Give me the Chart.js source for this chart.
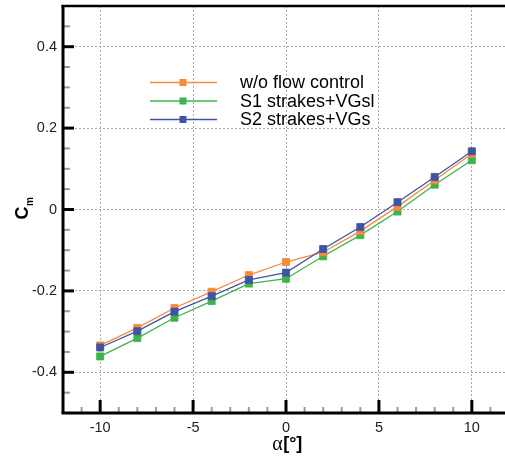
<!DOCTYPE html>
<html>
<head>
<meta charset="utf-8">
<script src="https://cdn.jsdelivr.net/npm/chart.js@4.4.0/dist/chart.umd.min.js"></script>
<style>
html,body{margin:0;padding:0;overflow:hidden;background:#fff;width:505px;height:456px;}
canvas{display:block;}
</style>
</head>
<body>
<canvas id="c" width="515" height="456"></canvas>
<script>
const ALPHA = [-10, -8, -6, -4, -2, 0, 2, 4, 6, 8, 10];
const CM_NONE = [-0.334, -0.291, -0.242, -0.202, -0.161, -0.129, -0.105, -0.053, 0.007, 0.072, 0.137];
const CM_S1 = [-0.361, -0.316, -0.266, -0.225, -0.182, -0.170, -0.115, -0.063, -0.005, 0.061, 0.121];
const CM_S2 = [-0.339, -0.299, -0.251, -0.213, -0.173, -0.155, -0.097, -0.043, 0.018, 0.080, 0.143];
const SERIES_NAMES = ['w/o flow control', 'S1 strakes+VGsl', 'S2 strakes+VGs'];
const COLORS = ['#F58A3C', '#3DB44B', '#3E55A5'];
const X_TICKS = [-10, -5, 0, 5, 10];
const X_TICK_LABELS = ['-10', '-5', '0', '5', '10'];
const Y_TICKS = [-0.4, -0.2, 0, 0.2, 0.4];
const Y_TICK_LABELS = ['-0.4', '-0.2', '0', '0.2', '0.4'];
const X_RANGE = [-12, 12];
const Y_RANGE = [-0.5, 0.5];

const FONT = '"Liberation Sans", Arial, Helvetica, sans-serif';

function pts(ys) { return ALPHA.map((x, i) => ({x: x, y: ys[i]})); }

const frame = {
  id: 'frame',
  afterDatasetsDraw(chart) {
    const ctx = chart.ctx, a = chart.chartArea;
    const xs = chart.scales.x, ys = chart.scales.y;
    ctx.save();
    // minor ticks
    ctx.strokeStyle = '#9a9a9a';
    ctx.lineWidth = 2;
    for (let v = -11; v <= 11; v += 1) {
      if (v % 5 === 0) continue;
      const px = xs.getPixelForValue(v);
      ctx.beginPath(); ctx.moveTo(px, a.bottom); ctx.lineTo(px, a.bottom - 6); ctx.stroke();
    }
    for (let k = -9; k <= 9; k += 1) {
      if (k % 4 === 0) continue;
      const py = ys.getPixelForValue(k * 0.05);
      ctx.beginPath(); ctx.moveTo(a.left, py); ctx.lineTo(a.left + 7, py); ctx.stroke();
    }
    // major ticks
    ctx.strokeStyle = '#000';
    ctx.lineWidth = 3;
    X_TICKS.forEach(v => {
      const px = xs.getPixelForValue(v);
      ctx.beginPath(); ctx.moveTo(px, a.bottom); ctx.lineTo(px, a.bottom - 13); ctx.stroke();
    });
    Y_TICKS.forEach(v => {
      const py = ys.getPixelForValue(v);
      ctx.beginPath(); ctx.moveTo(a.left, py); ctx.lineTo(a.left + 11, py); ctx.stroke();
    });
    // frame
    ctx.lineWidth = 3;
    ctx.beginPath(); ctx.moveTo(a.left, a.top - 1); ctx.lineTo(a.left, a.bottom); ctx.stroke();
    ctx.beginPath(); ctx.moveTo(a.left - 1.5, a.bottom); ctx.lineTo(a.right, a.bottom); ctx.stroke();
    ctx.beginPath(); ctx.moveTo(a.right, a.top); ctx.lineTo(a.right, a.bottom); ctx.stroke();
    ctx.lineWidth = 2.5;
    ctx.beginPath(); ctx.moveTo(a.left - 1.5, a.top); ctx.lineTo(a.right, a.top); ctx.stroke();

    // axis titles
    ctx.fillStyle = '#000';
    ctx.textBaseline = 'alphabetic';
    const t1 = 'α', t2 = '[°]';
    const f1 = '20px "Liberation Serif", "DejaVu Serif", serif';
    const f2 = 'bold 18px ' + FONT;
    ctx.font = f1; const w1 = ctx.measureText(t1).width;
    ctx.font = f2; const w2 = ctx.measureText(t2).width;
    const cx = xs.getPixelForValue(0) + 1;
    let sx = cx - (w1 + w2) / 2;
    ctx.textAlign = 'left';
    ctx.font = f1; ctx.fillText(t1, sx, 450);
    ctx.font = f2; ctx.fillText(t2, sx + w1 + 0.5, 449);
    // y title: C_m
    ctx.translate(28, ys.getPixelForValue(0) - 1);
    ctx.rotate(-Math.PI / 2);
    ctx.font = 'bold 18px ' + FONT; const wc = ctx.measureText('C').width;
    ctx.font = 'bold 10px ' + FONT; const wm = ctx.measureText('m').width;
    const st = -(wc + wm) / 2;
    ctx.font = 'bold 18px ' + FONT;
    ctx.fillText('C', st, 0);
    ctx.font = 'bold 10px ' + FONT;
    ctx.fillText('m', st + wc + 0.5, 5);
    ctx.restore();

    // legend
    ctx.save();
    const rows = [82.5, 101, 119.5];
    SERIES_NAMES.forEach((name, i) => {
      const y = rows[i];
      ctx.strokeStyle = COLORS[i];
      ctx.lineWidth = 1.3;
      ctx.beginPath(); ctx.moveTo(150, y); ctx.lineTo(217, y); ctx.stroke();
      ctx.fillStyle = COLORS[i];
      ctx.fillRect(183 - 3.5, y - 3.5, 7, 7);
      ctx.fillStyle = '#000';
      ctx.font = '18px ' + FONT;
      ctx.textAlign = 'left';
      ctx.textBaseline = 'middle';
      ctx.fillText(name, 240, y + 1);
    });
    ctx.restore();
  }
};

const makeDs = (i, data, order) => ({
  label: SERIES_NAMES[i],
  data: pts(data),
  showLine: true,
  borderColor: COLORS[i],
  backgroundColor: COLORS[i],
  borderWidth: 1.3,
  pointStyle: 'rect',
  pointRadius: 5,
  pointBorderWidth: 0.8,
  pointBorderColor: COLORS[i],
  order: order
});

new Chart(document.getElementById('c'), {
  type: 'scatter',
  data: {
    datasets: [
      makeDs(0, CM_NONE, 1),
      makeDs(1, CM_S1, 2),
      makeDs(2, CM_S2, 0)
    ]
  },
  options: {
    responsive: false,
    animation: false,
    layout: {padding: {top: 6, right: 6, left: 0, bottom: 0}},
    plugins: {legend: {display: false}, tooltip: {enabled: false}},
    scales: {
      x: {
        type: 'linear', min: X_RANGE[0], max: X_RANGE[1],
        afterBuildTicks: s => { s.ticks = X_TICKS.map(v => ({value: v})); },
        afterFit: s => { s.height = 43; s.paddingLeft = 0; s.paddingRight = 0; },
        ticks: {
          callback: (v) => X_TICK_LABELS[X_TICKS.indexOf(v)],
          font: {family: FONT, size: 14.5}, color: '#222', padding: 6, maxRotation: 0
        },
        grid: {color: '#a8a8a8', lineWidth: 1, drawTicks: false},
        border: {display: false, dash: [2, 2]}
      },
      y: {
        type: 'linear', min: Y_RANGE[0], max: Y_RANGE[1],
        afterBuildTicks: s => { s.ticks = Y_TICKS.map(v => ({value: v})); },
        afterFit: s => { s.width = 63; s.paddingTop = 0; s.paddingBottom = 0; },
        ticks: {
          callback: (v) => Y_TICK_LABELS[Y_TICKS.findIndex(t => Math.abs(t - v) < 1e-9)],
          font: {family: FONT, size: 14.5}, color: '#222', padding: 6
        },
        grid: {color: '#a8a8a8', lineWidth: 1, drawTicks: false},
        border: {display: false, dash: [2, 2]}
      }
    }
  },
  plugins: [frame]
});
</script>
</body>
</html>
